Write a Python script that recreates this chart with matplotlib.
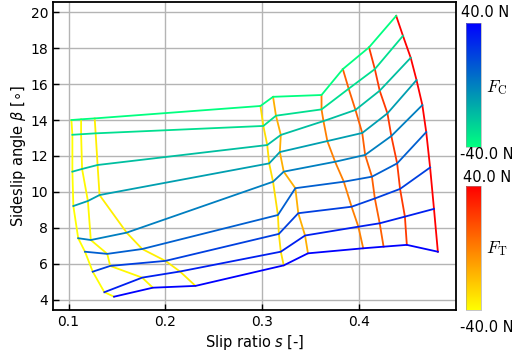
# slip_sideslip_mesh.py

import numpy as np
import matplotlib.pyplot as plt
import matplotlib as mpl

# ============================================================
# 1. DATA
# ============================================================

fc_values = [-40, -30, -20, -10, 0, 10, 20, 30, 40]
ft_values = [-40, -38, -35, -30, -15, 0, 10, 22, 40]

# one row per F_C value, one column per F_T value
slip_ratio = [
    [0.103, 0.113, 0.127, 0.298, 0.311, 0.361, 0.383, 0.410, 0.438],
    [0.104, 0.113, 0.128, 0.301, 0.314, 0.361, 0.389, 0.416, 0.445],
    [0.104, 0.114, 0.130, 0.305, 0.319, 0.363, 0.396, 0.421, 0.453],
    [0.105, 0.120, 0.132, 0.307, 0.318, 0.367, 0.403, 0.429, 0.459],
    [0.110, 0.123, 0.160, 0.311, 0.322, 0.375, 0.406, 0.433, 0.465],
    [0.117, 0.140, 0.176, 0.316, 0.334, 0.384, 0.413, 0.439, 0.469],
    [0.125, 0.143, 0.200, 0.317, 0.337, 0.392, 0.416, 0.442, 0.473],
    [0.137, 0.176, 0.215, 0.319, 0.344, 0.399, 0.421, 0.447, 0.477],
    [0.147, 0.187, 0.231, 0.322, 0.347, 0.404, 0.425, 0.449, 0.481],
]

sideslip = [
    [14.00, 14.04, 14.09, 14.78, 15.29, 15.39, 16.83, 18.04, 19.79],
    [13.18, 13.21, 13.26, 13.67, 14.24, 14.59, 15.74, 16.83, 18.68],
    [11.13, 11.28, 11.50, 12.61, 13.17, 13.94, 14.56, 15.63, 17.46],
    [9.22, 9.50, 9.83, 11.59, 12.22, 12.83, 13.28, 14.37, 16.22],
    [7.43, 7.33, 7.74, 10.57, 11.13, 11.68, 12.06, 13.11, 14.83],
    [6.68, 6.56, 6.83, 8.72, 10.21, 10.57, 10.85, 11.59, 13.33],
    [5.57, 5.89, 6.17, 7.67, 8.82, 9.18, 9.64, 10.17, 11.36],
    [4.43, 5.24, 5.58, 6.68, 7.58, 8.07, 8.26, 8.63, 9.06],
    [4.18, 4.68, 4.78, 5.92, 6.59, 6.87, 6.96, 7.06, 6.68],
]

x_ticks = [0.1, 0.2, 0.3, 0.4]
y_ticks = [4, 6, 8, 10, 12, 14, 16, 18, 20]

S = np.array(slip_ratio)
B = np.array(sideslip)

# ============================================================
# 2. FIGURE
# ============================================================

fig = plt.figure(figsize=(5.12, 3.56), dpi=100)
ax = fig.add_axes([0.1035, 0.1292, 0.7871, 0.8652])

cmap_c = plt.get_cmap("winter_r")
cmap_t = plt.get_cmap("autumn_r")
norm = mpl.colors.Normalize(vmin=-40, vmax=40)

# constant F_T curves
for j, ft in enumerate(ft_values):
    ax.plot(S[:, j], B[:, j], color=cmap_t(norm(ft)), linewidth=1.3)

# constant F_C curves
for i, fc in enumerate(fc_values):
    ax.plot(S[i, :], B[i, :], color=cmap_c(norm(fc)), linewidth=1.3)

ax.set_xlim(0.084, 0.4997)
ax.set_ylim(3.44, 20.56)
ax.set_xticks(x_ticks)
ax.set_yticks(y_ticks)
ax.grid(True, color="#b4b4b4", linewidth=1.0)
ax.set_axisbelow(True)
ax.tick_params(direction="in", labelsize=10, length=4, width=1)
for sp in ax.spines.values():
    sp.set_linewidth(1.3)

ax.set_xlabel(r"Slip ratio $s$ [-]", fontsize=10.5, labelpad=3)
ax.set_ylabel(r"Sideslip angle $\beta$ [$\circ$]", fontsize=10.5, labelpad=2)

# ============================================================
# 3. COLORBARS
# ============================================================

cax1 = fig.add_axes([0.910, 0.588, 0.029, 0.348])
cax2 = fig.add_axes([0.910, 0.129, 0.029, 0.348])

for cax, cmap, name, ytxt in [
    (cax1, cmap_c, r"$F_{\mathrm{C}}$", 0.755),
    (cax2, cmap_t, r"$F_{\mathrm{T}}$", 0.3025),
]:
    cb = mpl.colorbar.ColorbarBase(cax, cmap=cmap, norm=norm)
    cb.set_ticks([])
    cb.outline.set_linewidth(0.4)
    cb.outline.set_edgecolor("#999999")
    fig.text(0.949, ytxt, name, fontsize=12.5, math_fontfamily="cm",
             va="center", ha="left")

fig.text(0.900, 0.966, "40.0 N", fontsize=10.5, va="center", ha="left")
fig.text(0.898, 0.565, "-40.0 N", fontsize=10.5, va="center", ha="left")
fig.text(0.905, 0.500, "40.0 N", fontsize=10.5, va="center", ha="left")
fig.text(0.898, 0.081, "-40.0 N", fontsize=10.5, va="center", ha="left")

fig.savefig("out.png", dpi=100)
